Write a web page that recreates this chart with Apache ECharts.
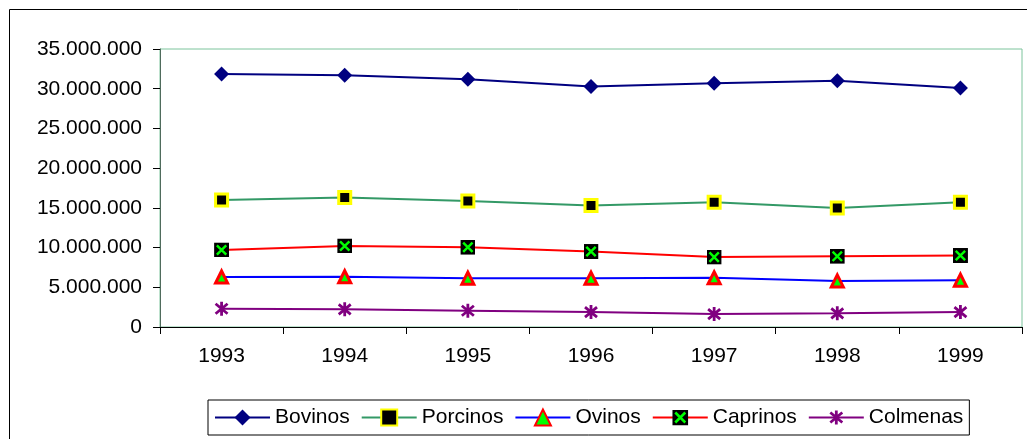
<!DOCTYPE html>
<html>
<head>
<meta charset="utf-8">
<script src="https://cdn.jsdelivr.net/npm/echarts@6/dist/echarts.min.js"></script>
<style>
html,body{margin:0;padding:0;background:#fff;}
#chart{width:1027px;height:439px;}
</style>
</head>
<body>
<div id="chart"></div>
<script>
var years = ['1993','1994','1995','1996','1997','1998','1999'];
var bovinos  = [31860000, 31700000, 31200000, 30270000, 30700000, 31000000, 30100000];
var porcinos = [16000000, 16300000, 15850000, 15300000, 15700000, 14970000, 15700000];
var ovinos   = [6300000, 6330000, 6150000, 6150000, 6200000, 5800000, 5900000];
var caprinos = [9700000, 10200000, 10040000, 9500000, 8800000, 8900000, 9000000];
var colmenas = [2300000, 2220000, 2050000, 1880000, 1630000, 1720000, 1880000];
var seriesNames = ['Bovinos','Porcinos','Ovinos','Caprinos','Colmenas'];
var yTicks = { min: 0, max: 35000000, interval: 5000000 };

function svgUri(s){ return 'image://data:image/svg+xml;charset=utf-8,' + encodeURIComponent(s); }
var caprinoSym = svgUri("<svg xmlns='http://www.w3.org/2000/svg' width='16' height='16' viewBox='0 0 16 16'><rect x='0' y='0' width='16' height='16' fill='#000'/><path d='M3 3L13 13M13 3L3 13' stroke='#00ff00' stroke-width='2.6' fill='none'/></svg>");
var colmenaSym = svgUri("<svg xmlns='http://www.w3.org/2000/svg' width='16' height='16' viewBox='0 0 16 16'><path d='M8 1L8 15M2 3L14 13M14 3L2 13' stroke='#800080' stroke-width='2.8' fill='none'/></svg>");

function fmt(v){ return String(v).replace(/\B(?=(\d{3})+(?!\d))/g, '.'); }

var FONT = 'Liberation Sans, Arial, sans-serif';
var chart = echarts.init(document.getElementById('chart'), null, {renderer:'canvas'});
chart.setOption({
  animation: false,
  backgroundColor: '#fff',
  textStyle: { fontFamily: FONT },
  graphic: [{
    type: 'rect', z: -10, silent: true,
    shape: { x: 9.5, y: 9.5, width: 1100, height: 500 },
    style: { fill: 'none', stroke: '#000', lineWidth: 1 }
  }],
  grid: { left: 160, right: 5, top: 49, bottom: 112, show: true, borderColor: '#7cc49c', borderWidth: 1, backgroundColor: 'transparent' },
  legend: {
    data: seriesNames,
    left: 208, top: 400,
    padding: [7, 6, 7, 6],
    itemWidth: 55, itemHeight: 20, itemGap: 11,
    borderColor: '#000', borderWidth: 1, backgroundColor: '#fff',
    textStyle: { fontSize: 21, color: '#000', fontFamily: FONT }
  },
  xAxis: {
    type: 'category', data: years, boundaryGap: true,
    axisLine: { lineStyle: { color: '#000', width: 1 } },
    axisTick: { show: true, length: 7, alignWithLabel: false, lineStyle: { color: '#000' } },
    axisLabel: { fontSize: 21, color: '#000', margin: 19, fontFamily: FONT },
    splitLine: { show: false }
  },
  yAxis: {
    type: 'value', min: yTicks.min, max: yTicks.max, interval: yTicks.interval,
    axisLine: { show: true, lineStyle: { color: '#4f6b5c', width: 1 } },
    axisTick: { show: true, length: 7, lineStyle: { color: '#000' } },
    axisLabel: { fontSize: 21, color: '#000', margin: 18, formatter: fmt, fontFamily: FONT },
    splitLine: { show: false }
  },
  series: [
    { name: 'Bovinos', type: 'line', data: bovinos, symbol: 'diamond', symbolSize: 15,
      lineStyle: { color: '#000080', width: 2 }, itemStyle: { color: '#000080' } },
    { name: 'Porcinos', type: 'line', data: porcinos, symbol: 'rect', symbolSize: 12,
      lineStyle: { color: '#339966', width: 2 }, itemStyle: { color: '#000', borderColor: '#ffff00', borderWidth: 3 } },
    { name: 'Ovinos', type: 'line', data: ovinos, symbol: 'triangle', symbolSize: 12,
      lineStyle: { color: '#0000ff', width: 2 }, itemStyle: { color: '#00ff00', borderColor: '#ff0000', borderWidth: 3 } },
    { name: 'Caprinos', type: 'line', data: caprinos, symbol: caprinoSym, symbolSize: 15,
      lineStyle: { color: '#ff0000', width: 2 }, itemStyle: { color: '#ff0000' } },
    { name: 'Colmenas', type: 'line', data: colmenas, symbol: colmenaSym, symbolSize: 16,
      lineStyle: { color: '#800080', width: 2 }, itemStyle: { color: '#800080' } }
  ]
});
</script>
</body>
</html>
